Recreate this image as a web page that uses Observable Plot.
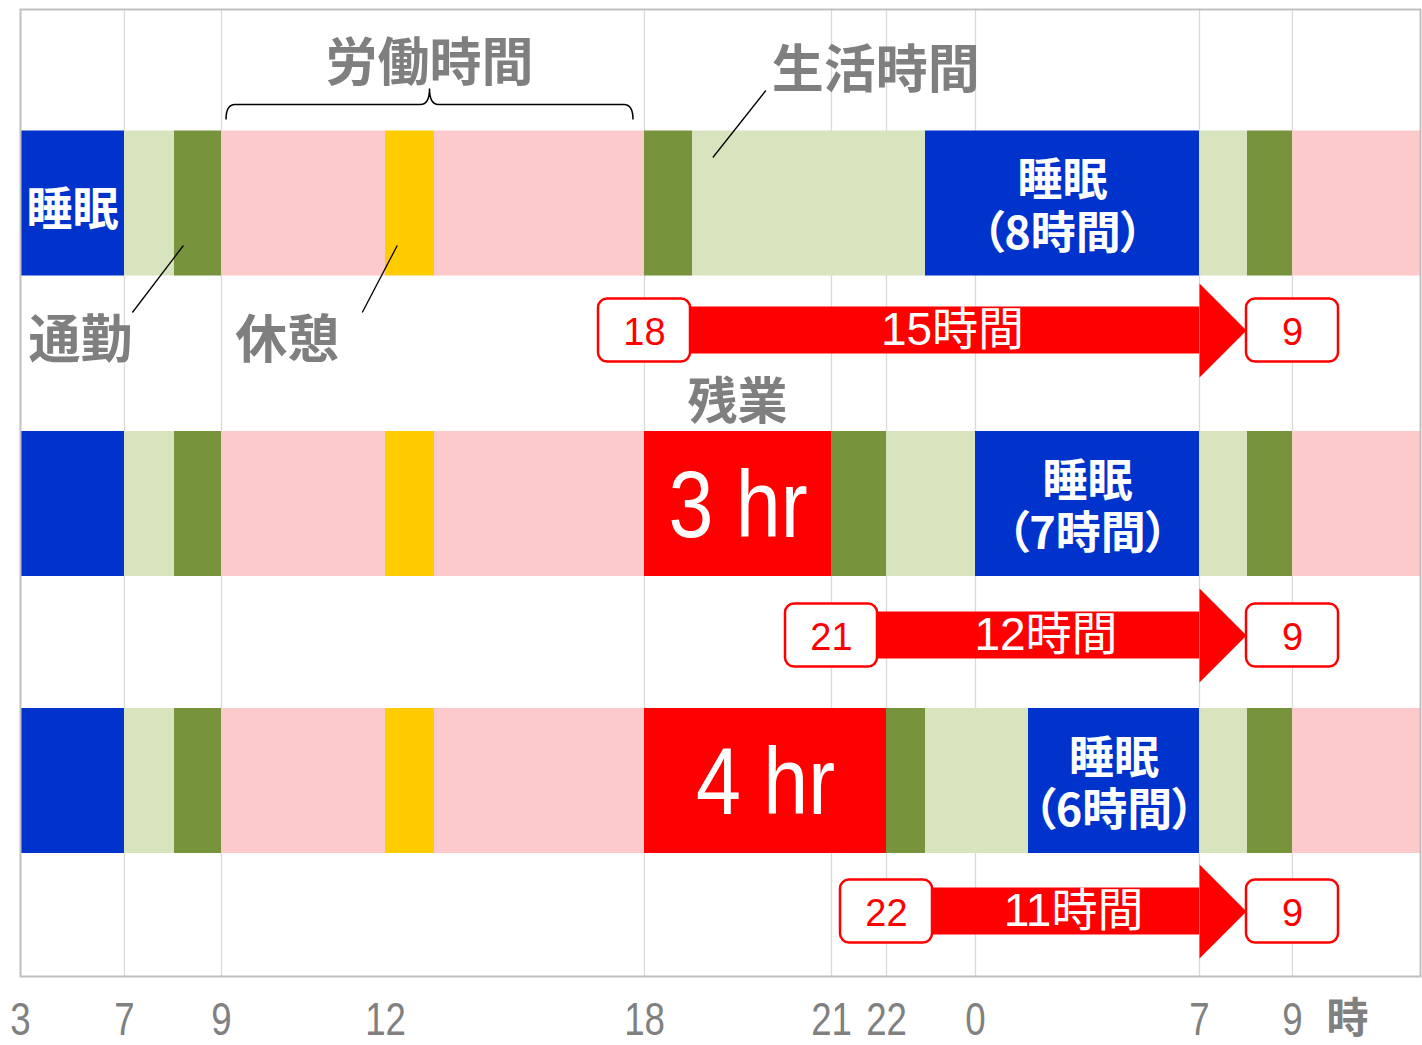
<!DOCTYPE html>
<html lang="ja">
<head>
<meta charset="utf-8">
<script src="https://cdn.jsdelivr.net/npm/d3@7"></script>
<script src="https://cdn.jsdelivr.net/npm/@observablehq/plot@0.6"></script>
<style>
  html, body { margin: 0; padding: 0; background: #fff; }
  #chart svg { display: block; }
</style>
</head>
<body>
<div id="chart"></div>
<script>
// ---------------- data ----------------
const rowNames = ["通常勤務", "残業3時間", "残業4時間"];
const activityNames = ["睡眠", "生活", "通勤", "労働", "休憩", "残業"];
const activityColors = ["#0033CC", "#D7E4BD", "#77933C", "#FCCACA", "#FFCC00", "#FF0000"];

// [start hour, end hour, activity]  (24 = 0時 of the next day, 31 = 7時, 33 = 9時)
const scheduleNormal = [[3,7,"睡眠"],[7,8,"生活"],[8,9,"通勤"],[9,12,"労働"],[12,13,"休憩"],[13,18,"労働"],[18,19,"通勤"],[19,23,"生活"],[23,31,"睡眠"],[31,32,"生活"],[32,33,"通勤"],[33,36,"労働"]];
const scheduleOT3    = [[3,7,"睡眠"],[7,8,"生活"],[8,9,"通勤"],[9,12,"労働"],[12,13,"休憩"],[13,18,"労働"],[18,21,"残業"],[21,22,"通勤"],[22,24,"生活"],[24,31,"睡眠"],[31,32,"生活"],[32,33,"通勤"],[33,36,"労働"]];
const scheduleOT4    = [[3,7,"睡眠"],[7,8,"生活"],[8,9,"通勤"],[9,12,"労働"],[12,13,"休憩"],[13,18,"労働"],[18,22,"残業"],[22,23,"通勤"],[23,25,"生活"],[25,31,"睡眠"],[31,32,"生活"],[32,33,"通勤"],[33,36,"労働"]];

// interval between the end of work and the next start (9時)
const intervalFrom = [18, 21, 22];
const intervalTo   = [33, 33, 33];

const tickHours  = [3, 7, 9, 12, 18, 21, 22, 24, 31, 33];
const tickLabels = ["3", "7", "9", "12", "18", "21", "22", "0", "7", "9"];
const gridHours  = [7, 9, 18, 21, 22, 24, 31, 33];
const hourUnit = "時";

const brace = {label: "労働時間", from: 9, to: 18, row: 0};
const callouts = [
  {label: "通勤", row: 0, hour: 8.2},
  {label: "休憩", row: 0, hour: 12.25},
  {label: "生活時間", row: 0, hour: 19.3}
];
const overtimeTitle = {label: "残業", row: 1};

// ---------------- layout / style ----------------
const cjk = "'Noto Sans CJK JP', 'Noto Sans', sans-serif";
const latin = "'Liberation Sans', 'Noto Sans CJK JP', sans-serif";
const gray = "#7F7F7F";
const red = "#FF0000";
const barHalf = 72.5, shaftHalf = 23.5, boxHalfW = 46, boxHalfH = 31.5, headLen = 47;

// the hand-drawn chart has uneven spacing between hours: piecewise-linear x scale
const xScaleOptions = {
  type: "linear",
  domain: [3, 7, 8, 9, 12, 13, 18, 19, 21, 22, 23, 24, 25, 31, 32, 33, 36],
  range:  [20, 124, 174, 221, 385, 434, 644, 692, 831, 886, 925, 975, 1028, 1199, 1247, 1292, 1420]
};
// lanes: 0 bar row1, 1 arrow row1, 2 bar row2, 3 arrow row2, 4 bar row3, 5 arrow row3
const yScaleOptions = {
  type: "linear",
  domain: [0, 1, 2, 3, 4, 5],
  range: [203, 330, 503.5, 635, 780.5, 911]
};
const calloutLayout = {
  "通勤": {side: "below", dx: -51, gap: 0},
  "休憩": {side: "below", dx: -35, gap: 23},
  "生活時間": {side: "above", dx: 53, gap: 6}
};

// ---------------- derived tables ----------------
const schedules = [scheduleNormal, scheduleOT3, scheduleOT4];
const segments = schedules.flatMap((s, r) =>
  s.map(([start, end, act]) => ({row: r, lane: 2 * r, start, end, act})));

const xs = Plot.scale({x: xScaleOptions});
const mid = (a, b) => xs.invert((xs.apply(a) + xs.apply(b)) / 2);

const nightSleep = segments
  .filter(d => d.act === "睡眠" && d.start >= 12)
  .map(d => ({...d, text: `睡眠\n（${d.end - d.start}時間）`}));
const morningSleep = segments
  .filter(d => d.act === "睡眠" && d.start < 12 && d.row === 0)
  .map(d => ({...d, text: "睡眠"}));
const overtimeLabels = segments
  .filter(d => d.act === "残業")
  .map(d => ({...d, text: `${d.end - d.start} hr`}));
const intervals = intervalFrom.map((f, i) => ({lane: 2 * i + 1, from: f, to: intervalTo[i], hours: intervalTo[i] - f}));
const boxes = intervals.flatMap(d => [{lane: d.lane, hour: d.from}, {lane: d.lane, hour: d.to}])
  .map(d => ({...d, label: String(d.hour % 24)}));

const arrowHead = {
  draw(context, size) {
    const r = Math.sqrt(size / Math.PI);
    context.moveTo(-r / 2, -r);
    context.lineTo(r / 2, 0);
    context.lineTo(-r / 2, r);
    context.closePath();
  }
};

function annotate(index, scales) {
  const {x, y} = scales;
  const g = d3.create("svg:g")
    .attr("font-family", cjk).attr("font-weight", "bold").attr("fill", gray);
  // brace over working hours
  {
    const x1 = x(brace.from) + 5, x2 = x(brace.to) - 11, xm = (x1 + x2) / 2;
    const top = y(2 * brace.row) - barHalf;
    const yEnd = top - 11, yLine = top - 26, yPeak = top - 42;
    const p = `M${x1},${yEnd} Q${x1},${yLine} ${x1 + 9},${yLine} L${xm - 9},${yLine} Q${xm},${yLine} ${xm},${yPeak} Q${xm},${yLine} ${xm + 9},${yLine} L${x2 - 9},${yLine} Q${x2},${yLine} ${x2},${yEnd}`;
    g.append("path").attr("d", p).attr("fill", "none").attr("stroke", "#000").attr("stroke-width", 1.5);
    g.append("text").attr("x", xm).attr("y", yPeak - 8).attr("text-anchor", "middle")
      .attr("font-size", 52).text(brace.label);
  }
  // leader-line callouts
  for (const c of callouts) {
    const L = calloutLayout[c.label];
    const cy = y(2 * c.row), px = x(c.hour);
    if (L.side === "below") {
      const y0 = cy + barHalf - 30, y1 = cy + barHalf + 37;
      g.append("line").attr("x1", px).attr("y1", y0).attr("x2", px + L.dx).attr("y2", y1)
        .attr("stroke", "#000").attr("stroke-width", 1.3);
      g.append("text").attr("x", px + L.dx - L.gap).attr("y", y1 + 45.5)
        .attr("text-anchor", "end").attr("font-size", 52).text(c.label);
    } else {
      const y0 = cy - barHalf + 27, y1 = cy - barHalf - 40;
      g.append("line").attr("x1", px).attr("y1", y0).attr("x2", px + L.dx).attr("y2", y1)
        .attr("stroke", "#000").attr("stroke-width", 1.3);
      g.append("text").attr("x", px + L.dx + L.gap).attr("y", y1 - 2.5)
        .attr("text-anchor", "start").attr("font-size", 52).text(c.label);
    }
  }
  // 残業 title above the overtime block of row 2
  {
    const seg = segments.find(d => d.row === overtimeTitle.row && d.act === "残業");
    const xm = (x(seg.start) + x(seg.end)) / 2;
    const top = y(seg.lane) - barHalf;
    g.append("text").attr("x", xm).attr("y", top - 12.5).attr("text-anchor", "middle")
      .attr("font-size", 50).text(overtimeTitle.label);
  }
  return g.node();
}

const chart = Plot.plot({
  width: 1422,
  height: 1045,
  marginLeft: 20, marginRight: 2, marginTop: 9, marginBottom: 69,
  style: {fontFamily: cjk, background: "white"},
  x: {...xScaleOptions, axis: null},
  y: {...yScaleOptions, axis: null},
  color: {domain: activityNames, range: activityColors},
  marks: [
    Plot.ruleX(gridHours, {stroke: "#D9D9D9", strokeWidth: 1.3}),
    Plot.rect(segments, {
      x1: "start", x2: "end", y1: "lane", y2: "lane",
      insetTop: -barHalf, insetBottom: -barHalf,
      fill: "act"
    }),
    // interval arrows
    Plot.rect(intervals, {
      x1: "from", x2: "to", y1: "lane", y2: "lane",
      insetLeft: boxHalfW, insetRight: boxHalfW + headLen,
      insetTop: -shaftHalf, insetBottom: -shaftHalf, fill: red
    }),
    Plot.dot(intervals, {x: "to", y: "lane", symbol: arrowHead, r: headLen, dx: -(boxHalfW + headLen / 2), fill: red, stroke: "none"}),
    Plot.rect(boxes, {
      x1: "hour", x2: "hour", y1: "lane", y2: "lane",
      insetLeft: -boxHalfW, insetRight: -boxHalfW, insetTop: -boxHalfH, insetBottom: -boxHalfH,
      rx: 9, fill: "white", stroke: red, strokeWidth: 2.5
    }),
    Plot.text(boxes, {x: "hour", y: "lane", text: "label", fill: red, fontSize: 38, dy: 2, fontFamily: latin}),
    Plot.text(intervals, {x: d => mid(d.from, d.to), y: "lane", text: d => `${d.hours}時間`, fill: "white", fontSize: 46, dx: -16, fontFamily: latin}),
    // labels inside bars
    Plot.text(morningSleep, {x: d => mid(d.start, d.end), y: "lane", text: "text", fill: "white", fontSize: 46, fontWeight: "bold", dy: 7, fontFamily: cjk}),
    Plot.text(nightSleep, {x: d => mid(d.start, d.end), y: "lane", text: "text", fill: "white", fontSize: 45, fontWeight: "bold", lineHeight: 1.17, dy: 2, fontFamily: cjk}),
    Plot.text(overtimeLabels, {x: d => mid(d.start, d.end), y: "lane", text: "text", fill: "white", fontSize: 95, dy: 3, fontFamily: latin}),
    annotate,
    Plot.axisX(tickHours, {
      tickFormat: d => tickLabels[tickHours.indexOf(d)],
      tickSize: 0, tickPadding: 25, fontSize: 47, color: "#808080", fontFamily: latin, label: null
    }),
    Plot.text([hourUnit], {frameAnchor: "bottom-right", textAnchor: "middle", lineAnchor: "middle", dx: -73, dy: 43, fontSize: 42, fontWeight: "bold", fill: "#808080", fontFamily: cjk}),
    Plot.frame({stroke: "#C0C0C0", strokeWidth: 2})
  ]
});

function condenseText(t, k) {
  const tr = t.getAttribute("transform");
  if (tr) {
    t.setAttribute("transform", tr + ` scale(${k},1)`);
  } else {
    const x = parseFloat(t.getAttribute("x")) || 0;
    const y = t.getAttribute("y");
    const numeric = y != null && /^-?[\d.]+$/.test(y);
    t.removeAttribute("x");
    if (numeric) t.removeAttribute("y");
    t.setAttribute("transform", `translate(${x},${numeric ? parseFloat(y) : 0}) scale(${k},1)`);
  }
}
chart.querySelectorAll('g[aria-label="x-axis tick label"] text').forEach(t => condenseText(t, 0.78));
const overtimeTexts = new Set(overtimeLabels.map(d => d.text));
chart.querySelectorAll("text").forEach(t => {
  if (overtimeTexts.has(t.textContent)) condenseText(t, 0.85);
  if (/時間）$/.test(t.textContent) || /^（/.test(t.textContent)) t.style.fontFeatureSettings = '"palt"';
});

document.getElementById("chart").appendChild(chart);
</script>
</body>
</html>
